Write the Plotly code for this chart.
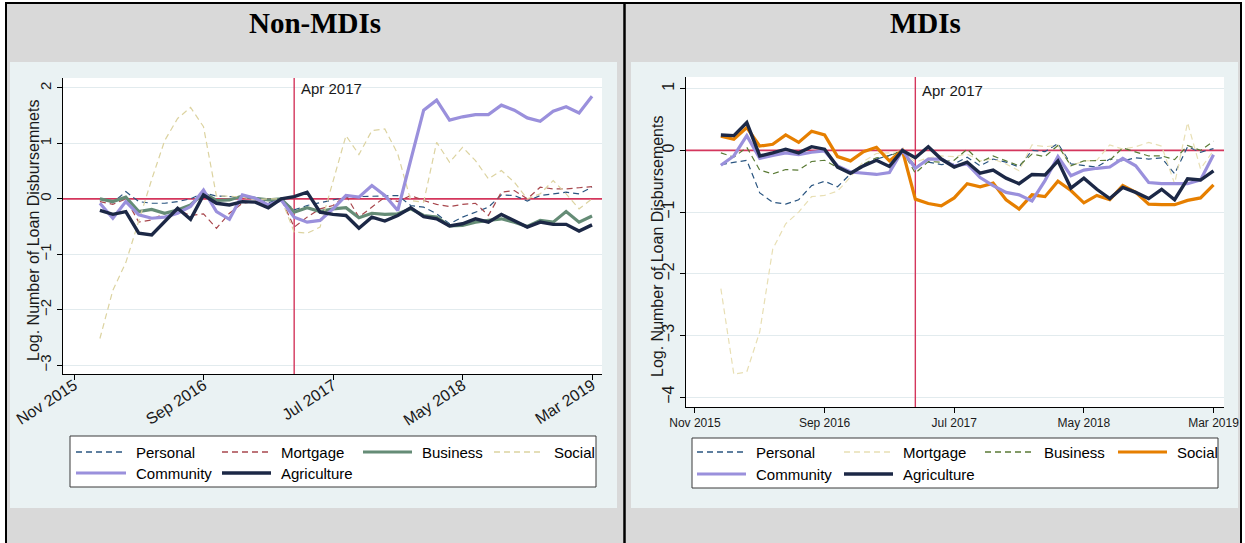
import pandas as pd
import plotly.graph_objects as go

W, H = 1245, 543

# ---------------------------------------------------------------- data
months = pd.period_range("2016-01", "2019-03", freq="M")
tick_months = ["2015-11", "2016-09", "2017-07", "2018-05", "2019-03"]
tick_labels = ["Nov 2015", "Sep 2016", "Jul 2017", "May 2018", "Mar 2019"]
event_month = "2017-04"
event_label = "Apr 2017"

series_names = ["Personal", "Mortgage", "Business", "Social", "Community", "Agriculture"]

# Non-MDIs
non_personal = [0.00, -0.07, 0.13, -0.05, -0.08, -0.08, -0.05, 0.00, 0.11, 0.05, 0.04, 0.04, 0.00,
                -0.07, 0.00, -0.20, -0.12, -0.07, -0.02, 0.03, 0.04, 0.05, 0.06, 0.06, -0.12, -0.15,
                -0.27, -0.45, -0.33, -0.24, -0.15, 0.07, 0.06, -0.04, 0.06, 0.09, 0.12, 0.09, 0.21]
non_mortgage = [-0.05, -0.10, 0.00, -0.42, -0.38, -0.26, -0.20, -0.30, -0.27, -0.53, -0.26, -0.08, -0.05,
                -0.10, 0.00, -0.51, -0.33, -0.18, -0.12, 0.06, -0.33, -0.15, 0.03, -0.05, 0.06, -0.03,
                -0.10, -0.14, -0.10, -0.08, -0.30, 0.12, 0.15, 0.00, 0.21, 0.18, 0.18, 0.20, 0.22]
non_business = [0.00, -0.05, 0.03, -0.23, -0.19, -0.26, -0.20, -0.11, 0.10, -0.03, -0.02, 0.05, 0.01,
                -0.02, 0.00, -0.24, -0.16, -0.23, -0.18, -0.16, -0.34, -0.26, -0.28, -0.27, -0.18, -0.30,
                -0.33, -0.49, -0.48, -0.42, -0.39, -0.36, -0.42, -0.50, -0.39, -0.42, -0.23, -0.42, -0.31]
non_social = [-2.52, -1.65, -1.15, -0.40, 0.35, 1.05, 1.45, 1.65, 1.30, 0.05, 0.05, 0.03, -0.02,
              0.00, 0.00, -0.60, -0.62, -0.51, 0.30, 1.14, 0.80, 1.23, 1.26, 0.81, -0.03, -0.06,
              1.02, 0.66, 0.93, 0.69, 0.36, 0.51, 0.30, 0.00, 0.09, 0.33, 0.09, -0.18, 0.00]
non_community = [-0.08, -0.35, -0.05, -0.29, -0.35, -0.33, -0.26, -0.14, 0.16, -0.23, -0.37, 0.07, 0.01,
                 -0.11, -0.02, -0.33, -0.42, -0.39, -0.18, 0.06, 0.03, 0.24, 0.06, -0.21, 0.70, 1.60,
                 1.78, 1.42, 1.48, 1.52, 1.52, 1.69, 1.60, 1.46, 1.40, 1.58, 1.66, 1.55, 1.85]
non_agriculture = [-0.21, -0.28, -0.23, -0.62, -0.65, -0.40, -0.17, -0.37, 0.07, -0.08, -0.11, -0.05, -0.06,
                   -0.16, 0.00, 0.04, 0.12, -0.24, -0.28, -0.30, -0.53, -0.33, -0.40, -0.30, -0.16, -0.32,
                   -0.36, -0.49, -0.45, -0.36, -0.42, -0.28, -0.39, -0.51, -0.42, -0.46, -0.46, -0.58, -0.47]

# MDIs
mdi_personal = [-0.23, -0.20, -0.16, -0.69, -0.84, -0.87, -0.80, -0.57, -0.50, -0.59, -0.38, -0.26, -0.14,
                -0.08, 0.00, -0.25, -0.19, -0.23, -0.22, -0.11, -0.25, -0.14, -0.19, -0.27, 0.00, -0.02,
                0.11, -0.22, -0.25, -0.27, -0.14, -0.17, -0.12, -0.14, -0.12, -0.38, 0.06, -0.03, 0.03]
mdi_mortgage = [-2.24, -3.63, -3.59, -2.94, -1.60, -1.19, -1.00, -0.75, -0.73, -0.66, -0.43, -0.18, -0.05,
                -0.04, 0.00, -0.19, -0.12, -0.09, -0.10, -0.06, -0.17, -0.14, -0.22, -0.33, 0.09, 0.06,
                0.08, -0.25, -0.17, -0.16, 0.09, 0.02, 0.06, 0.13, 0.07, -0.54, 0.45, -0.30, 0.00]
mdi_business = [-0.04, -0.11, 0.05, -0.32, -0.38, -0.31, -0.32, -0.18, -0.16, -0.28, -0.36, -0.22, -0.12,
                -0.09, 0.00, -0.37, -0.18, -0.19, -0.16, 0.02, -0.19, -0.09, -0.17, -0.25, -0.06, -0.10,
                0.08, -0.25, -0.17, -0.16, -0.16, 0.04, -0.03, -0.09, -0.09, -0.15, 0.08, 0.00, 0.15]
mdi_social = [0.23, 0.18, 0.37, 0.07, 0.10, 0.25, 0.13, 0.31, 0.25, -0.10, -0.17, -0.02, 0.05,
              -0.17, 0.00, -0.79, -0.86, -0.90, -0.77, -0.54, -0.59, -0.53, -0.80, -0.95, -0.72, -0.75,
              -0.50, -0.65, -0.85, -0.73, -0.80, -0.57, -0.68, -0.87, -0.88, -0.88, -0.81, -0.77, -0.56]
mdi_community = [-0.24, -0.09, 0.24, -0.13, -0.08, -0.04, -0.07, -0.03, -0.01, -0.25, -0.35, -0.37, -0.39,
                 -0.36, 0.00, -0.29, -0.14, -0.14, -0.25, -0.22, -0.44, -0.57, -0.68, -0.72, -0.82, -0.49,
                 -0.10, -0.41, -0.32, -0.29, -0.27, -0.13, -0.25, -0.52, -0.54, -0.54, -0.54, -0.48, -0.07]
mdi_agriculture = [0.25, 0.24, 0.45, -0.09, -0.04, 0.02, -0.04, 0.06, 0.02, -0.27, -0.37, -0.25, -0.16,
                   -0.26, 0.00, -0.12, 0.06, -0.14, -0.27, -0.19, -0.37, -0.32, -0.45, -0.54, -0.39, -0.40,
                   -0.17, -0.61, -0.45, -0.63, -0.78, -0.60, -0.68, -0.78, -0.63, -0.80, -0.46, -0.48, -0.33]

non_values = [non_personal, non_mortgage, non_business, non_social, non_community, non_agriculture]
mdi_values = [mdi_personal, mdi_mortgage, mdi_business, mdi_social, mdi_community, mdi_agriculture]

# ---------------------------------------------------------------- styles
DASH = "6px,4px"
non_styles = [
    dict(color="#2a5580", width=1.2, dash=DASH),
    dict(color="#a8474d", width=1.2, dash=DASH),
    dict(color="#658c76", width=3.2, dash="solid"),
    dict(color="#dcd3a0", width=1.2, dash=DASH),
    dict(color="#9a90dc", width=3.2, dash="solid"),
    dict(color="#1c2846", width=3.4, dash="solid"),
]
mdi_styles = [
    dict(color="#2a5580", width=1.2, dash=DASH),
    dict(color="#e8dfb4", width=1.2, dash=DASH),
    dict(color="#5a7a35", width=1.2, dash=DASH),
    dict(color="#e67f00", width=3.2, dash="solid"),
    dict(color="#9a90dc", width=3.2, dash="solid"),
    dict(color="#1c2846", width=3.4, dash="solid"),
]

FONT = "Liberation Sans, Arial, sans-serif"
TEXT = "#1a1a1a"
REF_RED = "#d4365c"


def mnum(p):
    p = pd.Period(p, freq="M")
    return p.year * 12 + p.month - 1


def px(x):
    return x / W


def py(y):
    return 1 - y / H


x_vals = [mnum(p) for p in months]
tick_vals = [mnum(p) for p in tick_months]
n0 = mnum(tick_months[0])
event_x = mnum(event_month)

# plot-area pixel boxes (left, top, right, bottom) and axis ranges
L_BOX = (63, 78, 602, 374)
R_BOX = (686, 77, 1224, 407)
L_XR = [n0 - 0.85, n0 + 40.77]
R_XR = [n0 - 0.69, n0 + 40.81]
L_YR = [-3.16, 2.18]
R_YR = [-4.16, 1.19]

fig = go.Figure()

panels = [
    dict(xa="x", ya="y", values=non_values, styles=non_styles, xr=L_XR, yr=L_YR),
    dict(xa="x2", ya="y2", values=mdi_values, styles=mdi_styles, xr=R_XR, yr=R_YR),
]
for pnl in panels:
    for name, vals, st in zip(series_names, pnl["values"], pnl["styles"]):
        fig.add_trace(go.Scatter(
            x=x_vals, y=vals, name=name, mode="lines",
            line=dict(color=st["color"], width=st["width"], dash=st["dash"]),
            xaxis=pnl["xa"], yaxis=pnl["ya"], showlegend=False, hoverinfo="skip",
        ))

axis_common = dict(
    showline=True, linecolor="#000000", linewidth=1, ticks="outside", ticklen=5,
    tickcolor="#000000", zeroline=False, fixedrange=True, color=TEXT, automargin=False,
)

fig.update_layout(
    template="none",
    width=W, height=H, autosize=False,
    margin=dict(l=0, r=0, t=0, b=0, pad=0),
    paper_bgcolor="#ffffff", plot_bgcolor="rgba(0,0,0,0)",
    showlegend=False, dragmode=False,
    font=dict(family=FONT, color=TEXT),
    xaxis=dict(
        domain=[px(L_BOX[0]), px(L_BOX[2])], anchor="y",
        range=L_XR, tickvals=tick_vals, ticktext=tick_labels,
        tickangle=-33, tickfont=dict(size=16, family=FONT, color=TEXT), showgrid=False,
        ticklabelstandoff=-10,
        **axis_common,
    ),
    yaxis=dict(
        domain=[py(L_BOX[3]), py(L_BOX[1])], anchor="x",
        range=L_YR, tickvals=[-3, -2, -1, 0, 1, 2], tickangle=-90,
        tickfont=dict(size=15, family=FONT, color=TEXT),
        showgrid=True, gridcolor="#e2ebee", gridwidth=1,
        **axis_common,
    ),
    xaxis2=dict(
        domain=[px(R_BOX[0]), px(R_BOX[2])], anchor="y2",
        range=R_XR, tickvals=tick_vals, ticktext=tick_labels,
        tickangle=0, tickfont=dict(size=12, family=FONT, color=TEXT), showgrid=False,
        **axis_common,
    ),
    yaxis2=dict(
        domain=[py(R_BOX[3]), py(R_BOX[1])], anchor="x2",
        range=R_YR, tickvals=[-4, -3, -2, -1, 0, 1], tickangle=-90,
        tickfont=dict(size=16, family=FONT, color=TEXT),
        showgrid=True, gridcolor="#e2ebee", gridwidth=1,
        **axis_common,
    ),
)

shapes = []
annotations = []


def rect(x0, y0, x1, y1, fill, line_color=None, line_width=0):
    shapes.append(dict(
        type="rect", xref="paper", yref="paper", layer="below",
        x0=px(x0), x1=px(x1), y0=py(y1), y1=py(y0),
        fillcolor=fill,
        line=dict(color=line_color or fill, width=line_width),
    ))


# table frame, graph backgrounds and white plot regions
rect(6, 3, 1241, 560, "#d9d9d9", "#000000", 2)
rect(10, 62, 617, 508, "#eaf2f3")
rect(631, 62, 1238, 508, "#eaf2f3")
rect(*L_BOX, "#ffffff")
rect(*R_BOX, "#ffffff")
shapes.append(dict(type="line", xref="paper", yref="paper", layer="below",
                   x0=px(624.5), x1=px(624.5), y0=py(560), y1=py(3),
                   line=dict(color="#000000", width=2.5)))


# legends
def draw_legend(box, rows_y, col_swatch, styles):
    x0, y0, x1, y1 = box
    rect(x0, y0, x1, y1, "#ffffff", "#3a3a3a", 1)
    for k, (name, st) in enumerate(zip(series_names, styles)):
        row, col = divmod(k, 4)
        sx0, sx1 = col_swatch[col]
        yy = rows_y[row]
        lw = st["width"] if st["dash"] == "solid" else 1.6
        shapes.append(dict(type="line", xref="paper", yref="paper", layer="below",
                           x0=px(sx0), x1=px(sx1), y0=py(yy), y1=py(yy),
                           line=dict(color=st["color"], width=lw, dash=st["dash"])))
        annotations.append(dict(
            text=name, xref="paper", yref="paper", x=px(sx1 + 8), y=py(yy),
            xanchor="left", yanchor="middle", showarrow=False,
            font=dict(family=FONT, size=15, color="#000000"),
        ))


draw_legend((70, 436, 596, 487), [452, 473],
            [(76, 126), (222, 271), (363, 412), (494, 544)], non_styles)
draw_legend((692, 438, 1218, 488), [452, 474],
            [(697, 746), (844, 893), (985, 1034), (1118, 1167)], mdi_styles)

# reference lines: zero line and event month, drawn in each panel's data space
for pnl in panels:
    xa, ya = pnl["xa"], pnl["ya"]
    shapes.append(dict(type="line", xref=xa, yref=ya, layer="between",
                       x0=pnl["xr"][0], x1=pnl["xr"][1], y0=0, y1=0,
                       line=dict(color=REF_RED, width=1.6)))
    shapes.append(dict(type="line", xref=xa, yref=ya, layer="between",
                       x0=event_x, x1=event_x, y0=pnl["yr"][0], y1=pnl["yr"][1],
                       line=dict(color=REF_RED, width=1.4)))

# panel titles
for label, cx in [("Non-MDIs", 315.5), ("MDIs", 925)]:
    annotations.append(dict(
        text=label, xref="paper", yref="paper", x=px(cx), y=py(23),
        xanchor="center", yanchor="middle", showarrow=False,
        font=dict(family="Liberation Serif, Times New Roman, serif", size=29,
                  color="#000000", weight="bold"),
    ))

# event labels
for pnl, yy in zip(panels, [88, 90]):
    annotations.append(dict(
        text=event_label, xref=pnl["xa"], yref="paper", x=event_x, y=py(yy),
        xanchor="left", yanchor="middle", xshift=5, showarrow=False,
        font=dict(family=FONT, size=15, color=TEXT),
    ))

# y-axis titles
for label, cx, cy in [("Log. Number of Loan Disbursemnets", 33, 231),
                      ("Log. Number of Loan Disbursements", 657, 247)]:
    annotations.append(dict(
        text=label, xref="paper", yref="paper", x=px(cx), y=py(cy),
        xanchor="center", yanchor="middle", textangle=-90, showarrow=False,
        font=dict(family=FONT, size=16, color=TEXT),
    ))

fig.update_layout(shapes=shapes, annotations=annotations)

fig.write_html("out.html", config={"displayModeBar": False})
